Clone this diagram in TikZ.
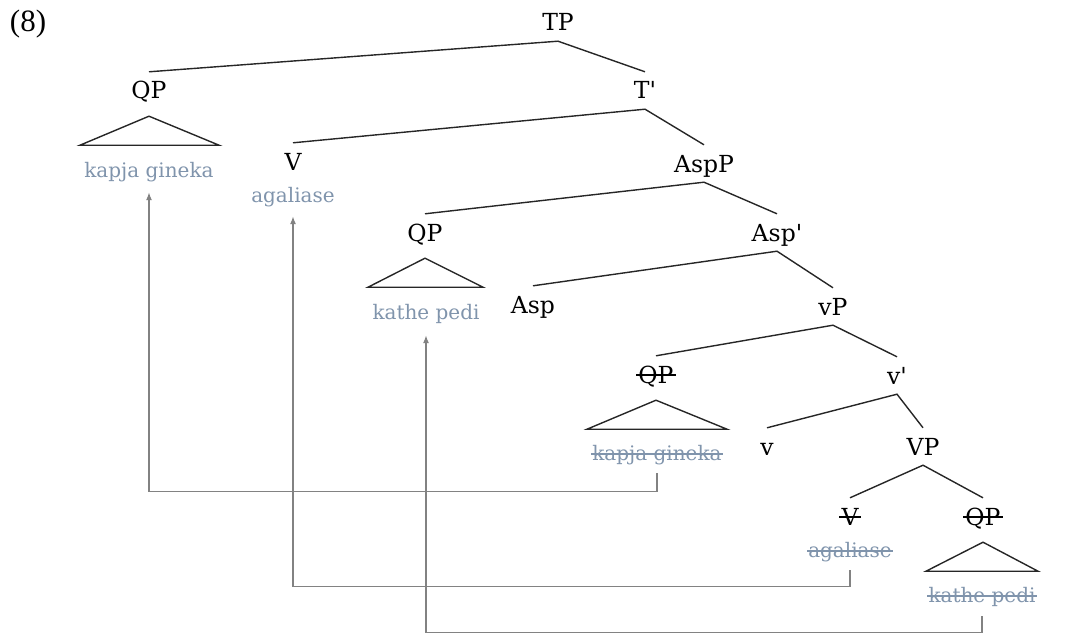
\documentclass[tikz,border=0pt]{standalone}
\usepackage{fontspec}
\usetikzlibrary{calc,arrows.meta}
\setmainfont{Liberation Serif}
\newfontfamily\treefont{DejaVu Serif}
\definecolor{trace}{RGB}{128,148,172}
\definecolor{movegray}{RGB}{130,130,130}

\begin{document}
\begin{tikzpicture}[x=1pt,y=-1pt,
	cat/.style={font={\treefont\fontsize{23.5}{27}\selectfont}, anchor=base, text height=17pt, text depth=0pt, inner xsep=1pt, inner ysep=10pt},
	leaf/.style={font={\treefont\fontsize{20}{24}\selectfont}, text=trace, anchor=base, text height=15pt, text depth=0pt, inner sep=0pt},
	branch/.style={line width=1.4pt, black!85},
	strikeout/.style={line width=1.2pt},
	move/.style={line width=1.3pt, movegray, -{Latex[length=8pt,width=6pt]}}]
	\useasboundingbox (0,0) rectangle (1068,634);

	% example number
	\node[font={\fontsize{31}{34}\selectfont}, anchor=base] (num) at (28,32) {(8)};

	% categories
	\node[cat] (tp) at (558,31) {TP};
	\node[cat] (qpa) at (149,99) {QP};
	\node[cat] (tbar) at (645,99) {T\textquotesingle};
	\node[cat] (va) at (293,170) {V};
	\node[cat] (aspp) at (704,172) {AspP};
	\node[cat] (qpb) at (425,241) {QP};
	\node[cat] (aspbar) at (777,241) {Asp\textquotesingle};
	\node[cat] (asp) at (533,313) {Asp};
	\node[cat] (vsp) at (833,315) {vP};
	\node[cat] (qpc) at (656,383) {QP};
	\node[cat] (vsbar) at (897,384) {v\textquotesingle};
	\node[cat] (vs) at (767,455) {v};
	\node[cat] (vp) at (923,455) {VP};
	\node[cat] (vb) at (850,525) {V};
	\node[cat] (qpd) at (983,525) {QP};

	% words
	\node[leaf] (kga) at (149,177) {kapja gineka};
	\node[leaf] (aga) at (293,202) {agaliase};
	\node[leaf] (kpa) at (426,319) {kathe pedi};
	\node[leaf] (kgb) at (657,460) {kapja gineka};
	\node[leaf] (agb) at (850,557) {agaliase};
	\node[leaf] (kpb) at (982,602) {kathe pedi};

	% crossed-out copies
	\foreach \n in {qpc,vb,qpd}
		\draw[strikeout] ($(\n.base west)+(-1,-8)$) -- ($(\n.base east)+(1,-8)$);
	\foreach \n in {kgb,agb,kpb}
		\draw[strikeout, trace] ($(\n.base west)+(-1,-6)$) -- ($(\n.base east)+(1,-6)$);

	% branches
	\draw[branch] (qpa.north) -- (tp.south) -- (tbar.north);
	\draw[branch] (va.north) -- (tbar.south) -- (aspp.north);
	\draw[branch] (qpb.north) -- (aspp.south) -- (aspbar.north);
	\draw[branch] (asp.north) -- (aspbar.south) -- (vsp.north);
	\draw[branch] (qpc.north) -- (vsp.south) -- (vsbar.north);
	\draw[branch] (vs.north) -- (vsbar.south) -- (vp.north);
	\draw[branch] (vb.north) -- (vp.south) -- (qpd.north);

	% triangles
	\draw[branch] ($(qpa.south)+(0,7)$) -- ++(-69,29) -- ++(139,0) -- cycle;
	\draw[branch] ($(qpb.south)+(0,7)$) -- ++(-57,29) -- ++(115,0) -- cycle;
	\draw[branch] ($(qpc.south)+(0,7)$) -- ++(-69,29) -- ++(140,0) -- cycle;
	\draw[branch] ($(qpd.south)+(0,7)$) -- ++(-57,29) -- ++(112,0) -- cycle;

	% movement
	\draw[move] ($(kgb.south)+(0,13)$) -- ++(0,18) -| ($(kga.south)+(0,15)$);
	\draw[move] ($(agb.south)+(0,13)$) -- ++(0,16) -| ($(aga.south)+(0,14)$);
	\draw[move] ($(kpb.south)+(0,14)$) -- ++(0,16) -| ($(kpa.south)+(0,16)$);
\end{tikzpicture}
\end{document}
